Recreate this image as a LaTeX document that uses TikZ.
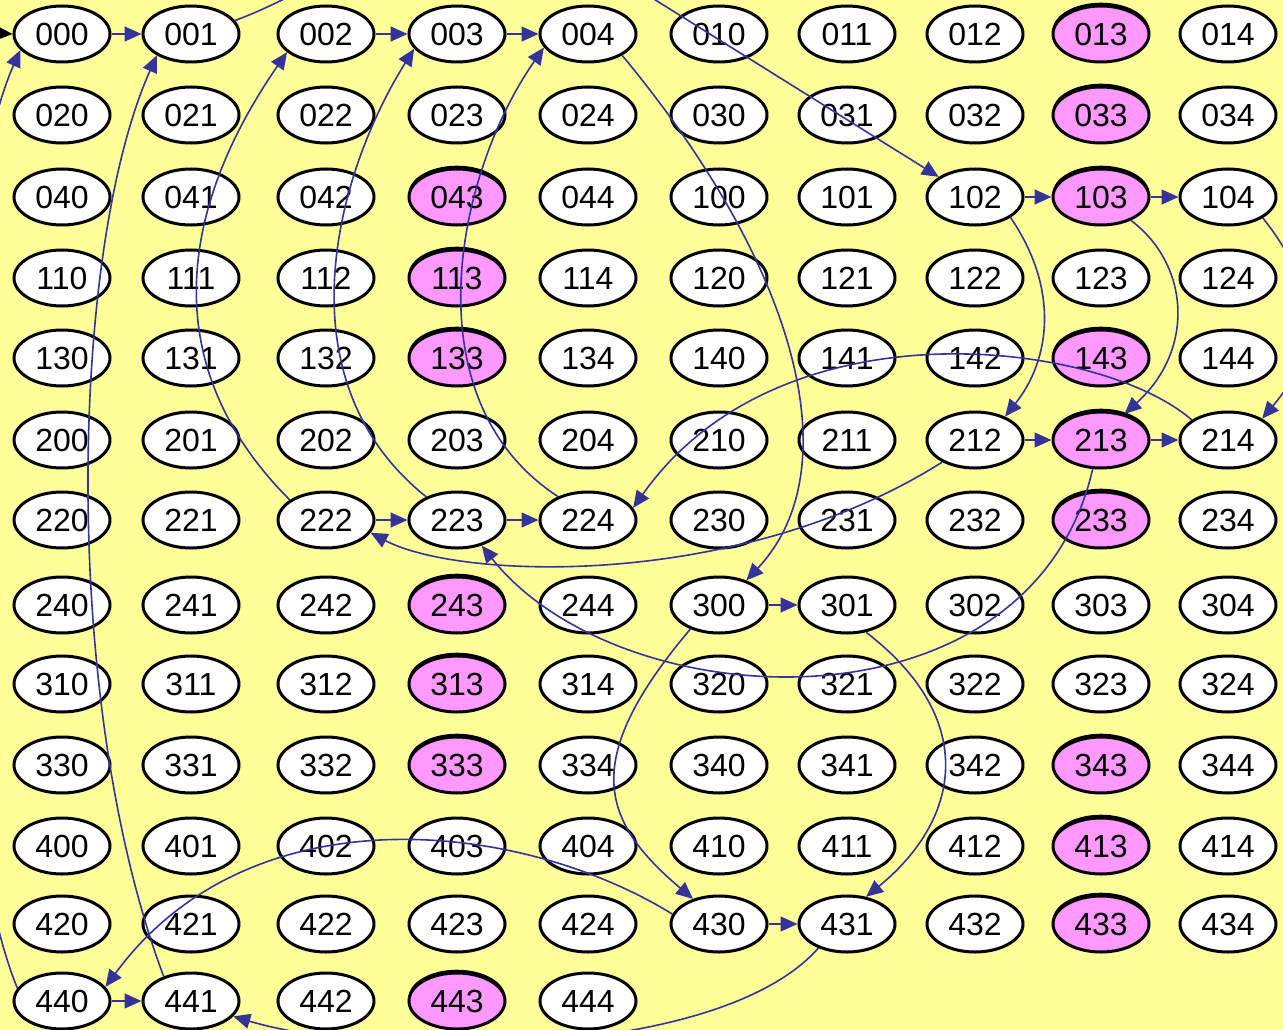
\documentclass[tikz,border=0pt]{standalone}
\usepackage{fontspec}
\setmainfont{Liberation Sans}
\usetikzlibrary{shapes.geometric,arrows.meta,shadows}
\definecolor{bgyel}{HTML}{FFFF99}
\definecolor{pinkc}{HTML}{FF99FF}
\definecolor{edgec}{HTML}{333399}
\tikzset{
  state/.style={ellipse, draw=black, line width=3pt, fill=white,
    minimum width=96pt, minimum height=56pt, inner sep=0pt,
    font=\fontsize{32}{32}\selectfont},
  pinkstate/.style={fill=pinkc,
    general shadow={fill=black, shadow yshift=3pt, shadow scale=1.01}},
  link/.style={draw=edgec, line width=1.6pt,
    -{Triangle[length=17pt,width=15pt]}},
  initlink/.style={draw=black, line width=1.6pt,
    -{Triangle[length=17pt,width=15pt]}},
}
\tikzset{st013/.style={pinkstate}, st033/.style={pinkstate}, st043/.style={pinkstate},
  st103/.style={pinkstate}, st113/.style={pinkstate}, st133/.style={pinkstate},
  st143/.style={pinkstate}, st213/.style={pinkstate}, st233/.style={pinkstate},
  st243/.style={pinkstate}, st313/.style={pinkstate}, st333/.style={pinkstate},
  st343/.style={pinkstate}, st413/.style={pinkstate}, st433/.style={pinkstate},
  st443/.style={pinkstate}}
\def\colx{{62,191,326,457,588,719,847,975,1101,1228}}
\def\rowy{{34,115,197,278,358,440,520,605,684,765,846,924,1001}}
\begin{document}
\begin{tikzpicture}[x=1pt,y=-1pt]
\fill[bgyel] (0,0) rectangle (1283,1030);
\useasboundingbox (0,0) rectangle (1283,1030);
\clip (0,0) rectangle (1283,1030);
\foreach \row [count=\r from 0] in {
  {000,001,002,003,004,010,011,012,013,014},
  {020,021,022,023,024,030,031,032,033,034},
  {040,041,042,043,044,100,101,102,103,104},
  {110,111,112,113,114,120,121,122,123,124},
  {130,131,132,133,134,140,141,142,143,144},
  {200,201,202,203,204,210,211,212,213,214},
  {220,221,222,223,224,230,231,232,233,234},
  {240,241,242,243,244,300,301,302,303,304},
  {310,311,312,313,314,320,321,322,323,324},
  {330,331,332,333,334,340,341,342,343,344},
  {400,401,402,403,404,410,411,412,413,414},
  {420,421,422,423,424,430,431,432,433,434},
  {440,441,442,443,444}} {
  \foreach \lab [count=\c from 0] in \row {
    \pgfmathsetmacro\xx{\colx[\c]}
    \pgfmathsetmacro\yy{\rowy[\r]}
    \node[state, st\lab/.try] (n\lab) at (\xx,\yy) {\lab};
  }
}
% initial arrow
\coordinate (init) at (-40,31);
\draw[initlink] (init) -- (n000.west);
% straight edges
\draw[link] (n000) -- (n001);
\draw[link] (n002) -- (n003);
\draw[link] (n003) -- (n004);
\draw[link] (n102) -- (n103);
\draw[link] (n103) -- (n104);
\draw[link] (n212) -- (n213);
\draw[link] (n213) -- (n214);
\draw[link] (n222) -- (n223);
\draw[link] (n223) -- (n224);
\draw[link] (n300) -- (n301);
\draw[link] (n430) -- (n431);
\draw[link] (n440) -- (n441);
% curved edges
\draw[link] (n001.17) .. controls (330,-15) and (420,-90) .. (500,-97) -- (n102.151);
\draw[link] (n004.-32) .. controls (800,270) and (850,470) .. (n300.42);
\draw[link] (n104.-31) .. controls (1320,290) and (1320,350) .. (n214.32);
\draw[link] (n102.-30) .. controls (1060,290) and (1050,360) .. (n212.38);
\draw[link] (n103.-38) .. controls (1190,265) and (1195,350) .. (n213.48);
\draw[link] (n214.151) .. controls (1100,340) and (780,300) .. (n224.15);
\draw[link] (n212.-146) .. controls (740,590) and (460,580) .. (n222.-16);
\draw[link] (n213.-106) .. controls (1030,740) and (620,720) .. (n223.-46);
\draw[link] (n222.151) .. controls (150,360) and (185,200) .. (n002.-155);
\draw[link] (n223.143) .. controls (280,380) and (335,175) .. (n003.-161);
\draw[link] (n224.142) .. controls (410,400) and (455,175) .. (n004.-163);
\draw[link] (n300.-140) .. controls (580,760) and (600,820) .. (n430.136);
\draw[link] (n301.-55) .. controls (980,720) and (960,820) .. (n431.55);
\draw[link] (n430.168) .. controls (520,820) and (250,790) .. (n440.18);
\draw[link] (n431.-140) .. controls (720,1060) and (380,1060) .. (n441.-20);
\draw[link] (n441.138) .. controls (60,700) and (70,250) .. (n001.-148);
\draw[link] (n440.164) .. controls (-60,800) and (-60,230) .. (n000.-159);
\end{tikzpicture}
\end{document}
